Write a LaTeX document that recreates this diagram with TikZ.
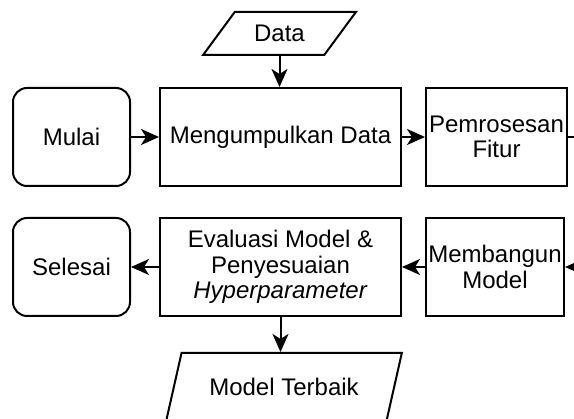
\documentclass[tikz,border=0pt]{standalone}
\usepackage{fontspec}
\setmainfont{Liberation Sans}
\usetikzlibrary{arrows.meta,shapes.geometric,positioning}

\begin{document}
\begin{tikzpicture}[x=1pt, y=-1pt, line width=2pt,
    font=\fontsize{24}{25.5}\selectfont,
    arr/.style={-{Stealth[length=18pt,width=16pt,inset=5pt]}},
    box/.style={draw, rectangle, minimum height=98pt, inner sep=2pt, align=center},
    term/.style={box, rounded corners=14pt, minimum width=117pt},
    io/.style={draw, trapezium, trapezium stretches=true, inner sep=2pt}]
   \clip (0,0) rectangle (574,419);

   %baris atas
   \node[term] (mulai) at (71.5,137) {Mulai};
   \node[box, minimum width=241pt] (kumpul) at (280.5,137) {Mengumpulkan Data};
   \node[box, minimum width=141pt] (proses) at (496.5,137) {Pemrosesan\\Fitur};
   \node[io, trapezium left angle=47, trapezium right angle=133,
         minimum width=153pt, minimum height=43pt] (data) at (279.5,33.5) {Data};
   \coordinate (prosesout) at (590,137);

   %baris bawah
   \node[term] (selesai) at (71.5,267) {Selesai};
   \node[box, minimum width=241pt] (evaluasi) at (280.5,267)
        {Evaluasi Model \&\\Penyesuaian\\\textit{Hyperparameter}};
   \node[box, minimum width=138pt] (bangun) at (495,267) {Membangun\\Model};
   \node[io, trapezium left angle=62, trapezium right angle=118,
         minimum width=236pt, minimum height=68pt] (terbaik) at (284,387) {Model Terbaik};
   \coordinate (bangunin) at (590,267);

  \path[arr]
    %baris atas
    (data.south) edge[arr] (data.south |- kumpul.north)
    (mulai) edge[arr] (kumpul)
    (kumpul) edge[arr] (proses)
    (proses) edge[-] (prosesout)

    %baris bawah
    (bangunin) edge[arr] (bangun)
    (bangun) edge[arr] (evaluasi)
    (evaluasi) edge[arr] (selesai)
    (evaluasi.south) edge[arr] (evaluasi.south |- terbaik.north);
\end{tikzpicture}
\end{document}
